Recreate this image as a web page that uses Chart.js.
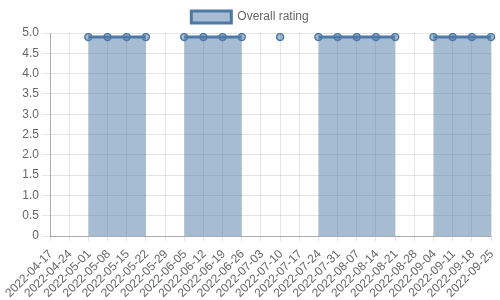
<!DOCTYPE html>
<html><head><meta charset="utf-8">
<script src="https://cdn.jsdelivr.net/npm/chart.js@4/dist/chart.umd.min.js"></script>
<style>html,body{margin:0;padding:0;background:#fff}#wrap{width:500px;height:300px}</style>
</head><body><div id="wrap"><canvas id="c"></canvas></div>
<script>
const labels = ["2022-04-17","2022-04-24","2022-05-01","2022-05-08","2022-05-15","2022-05-22","2022-05-29","2022-06-05","2022-06-12","2022-06-19","2022-06-26","2022-07-03","2022-07-10","2022-07-17","2022-07-24","2022-07-31","2022-08-07","2022-08-14","2022-08-21","2022-08-28","2022-09-04","2022-09-11","2022-09-18","2022-09-25"];
const overallRating = [null,null,4.9,4.9,4.9,4.9,null,4.9,4.9,4.9,4.9,null,4.9,null,4.9,4.9,4.9,4.9,4.9,null,4.9,4.9,4.9,4.9];
const seriesName = "Overall rating";

Chart.defaults.font.family = "'Liberation Sans', Arial, sans-serif";
Chart.defaults.color = '#666';
new Chart(document.getElementById('c'), {
  type: 'line',
  data: {
    labels: labels,
    datasets: [{
      label: seriesName,
      data: overallRating,
      borderColor: '#4e79a7',
      backgroundColor: 'rgba(78,121,167,0.5)',
      borderWidth: 3,
      pointRadius: 3.5,
      pointBorderWidth: 1.5,
      pointBackgroundColor: 'rgba(78,121,167,0.5)',
      pointBorderColor: '#4e79a7',
      fill: 'origin',
      spanGaps: false,
      tension: 0
    }]
  },
  options: {
    responsive: true,
    maintainAspectRatio: false,
    animation: false,
    layout: { padding: { top: 1 } },
    plugins: { legend: { display: true, position: 'top' } },
    scales: {
      y: {
        min: 0, max: 5, ticks: { stepSize: 0.5 },
        border: { color: 'rgba(0,0,0,0.25)' },
        afterFit: (s) => { s.width = 50; }
      },
      x: {
        ticks: { autoSkip: false, maxRotation: 45, minRotation: 45, padding: 6, labelOffset: 1 },
        grid: { tickLength: 5 },
        border: { color: 'rgba(0,0,0,0.25)' },
        afterFit: (s) => { s.height = 64; s.paddingRight = 9; }
      }
    }
  }
});
</script></body></html>
